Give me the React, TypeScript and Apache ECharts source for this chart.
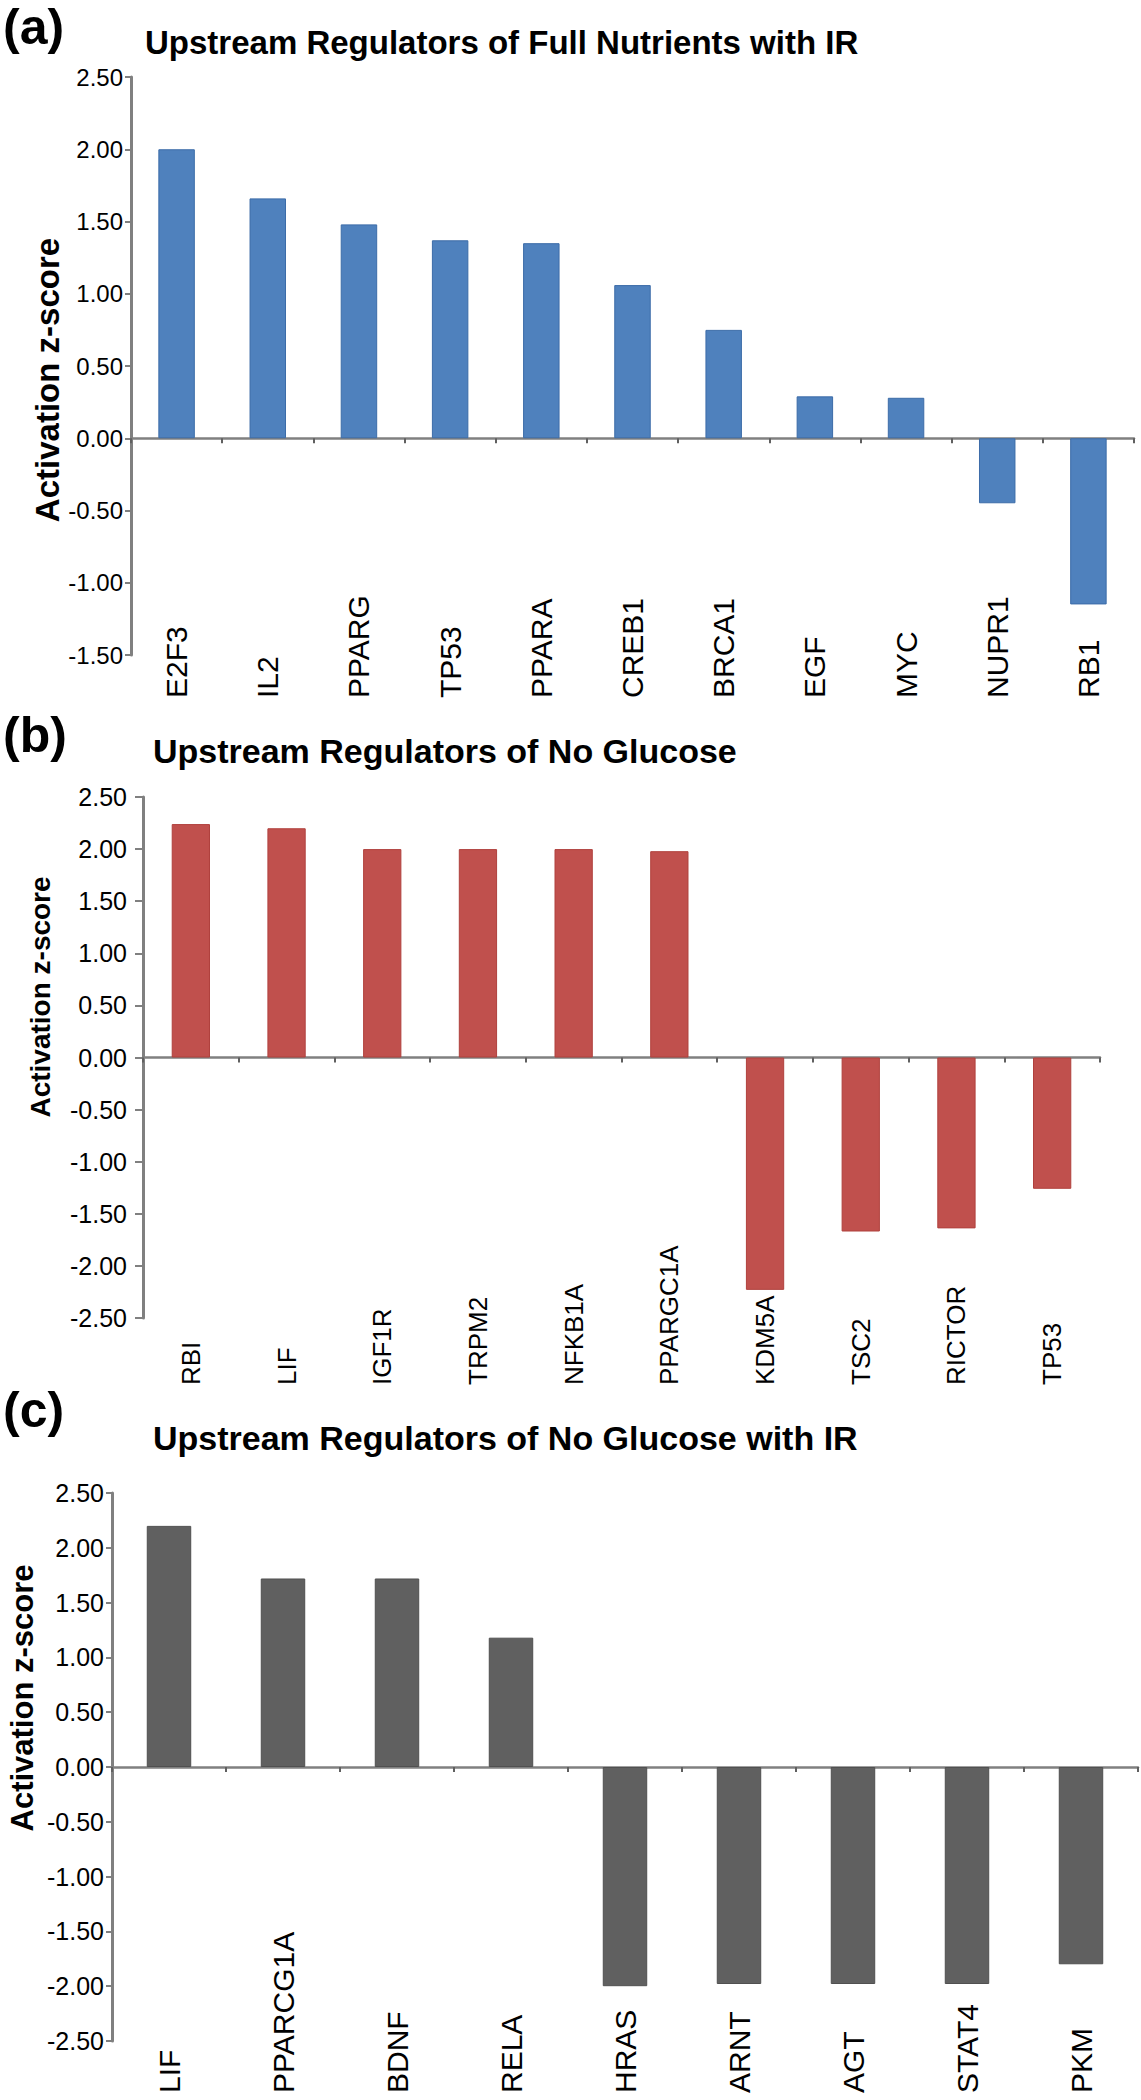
import React, { useEffect, useRef } from 'react';
import * as echarts from 'echarts';

// Panel (a): Upstream Regulators of Full Nutrients with IR
const catsA = ['E2F3', 'IL2', 'PPARG', 'TP53', 'PPARA', 'CREB1', 'BRCA1', 'EGF', 'MYC', 'NUPR1', 'RB1'];
const valsA = [2.0, 1.66, 1.48, 1.37, 1.35, 1.06, 0.75, 0.29, 0.28, -0.45, -1.15];

// Panel (b): Upstream Regulators of No Glucose
const catsB = ['RBI', 'LIF', 'IGF1R', 'TRPM2', 'NFKB1A', 'PPARGC1A', 'KDM5A', 'TSC2', 'RICTOR', 'TP53'];
const valsB = [2.24, 2.2, 2.0, 2.0, 2.0, 1.98, -2.23, -1.67, -1.64, -1.26];

// Panel (c): Upstream Regulators of No Glucose with IR
const catsC = ['LIF', 'PPARCG1A', 'BDNF', 'RELA', 'HRAS', 'ARNT', 'AGT', 'STAT4', 'PKM'];
const valsC = [2.2, 1.72, 1.72, 1.18, -2.0, -1.98, -1.98, -1.98, -1.8];

const panelLabels = ['(a)', '(b)', '(c)'];
const titles = [
  'Upstream Regulators of Full Nutrients with IR',
  'Upstream Regulators of No Glucose',
  'Upstream Regulators of No Glucose with IR',
];
const yName = 'Activation z-score';

const FONT = '"Liberation Sans", Arial, Helvetica, sans-serif';

export default function App() {
  const ref = useRef<HTMLDivElement>(null);

  useEffect(() => {
    if (!ref.current) return;
    const chart = echarts.init(ref.current, null, { renderer: 'svg' });

    const panels = [
      {
        cats: catsA, vals: valsA, color: '#4F81BD', border: '#3C6CA8',
        left: 131, top: 77, right: 1134, bottom: 655, min: -1.5, max: 2.5,
        tickFont: 24, tickMargin: 8, tickLen: 6, catFont: 30, catMargin: 43, barWidth: '40%',
        label: { x: 3, y: 27, size: 50 },
        title: { x: 145, y: 42, size: 33 },
        name: { x: 47, y: 380, size: 33 },
      },
      {
        cats: catsB, vals: valsB, color: '#C0504D', border: '#B0403D',
        left: 143, top: 797, right: 1100, bottom: 1318, min: -2.5, max: 2.5,
        tickFont: 25, tickMargin: 16, tickLen: 8, catFont: 26, catMargin: 67, barWidth: '40%',
        label: { x: 3, y: 735, size: 50 },
        title: { x: 153, y: 751, size: 34 },
        name: { x: 40, y: 997, size: 28 },
      },
      {
        cats: catsC, vals: valsC, color: '#606060', border: '#505050',
        left: 112, top: 1493, right: 1138, bottom: 2041, min: -2.5, max: 2.5,
        tickFont: 25, tickMargin: 8, tickLen: 6, catFont: 30, catMargin: 52, barWidth: '39%',
        label: { x: 3, y: 1410, size: 50 },
        title: { x: 153, y: 1438, size: 34 },
        name: { x: 22, y: 1698, size: 31 },
      },
    ];

    const grid: any[] = [];
    const xAxis: any[] = [];
    const yAxis: any[] = [];
    const series: any[] = [];
    const graphic: any[] = [];

    panels.forEach((p, i) => {
      grid.push({ left: p.left, top: p.top, width: p.right - p.left, height: p.bottom - p.top, containLabel: false });
      xAxis.push({
        type: 'category', gridIndex: i, data: p.cats, position: 'bottom',
        axisLine: { show: true, onZero: true, lineStyle: { color: '#808080', width: 2.5 } },
        axisTick: { show: true, length: 5, lineStyle: { color: '#606060', width: 2 } },
        axisLabel: { show: false },
        splitLine: { show: false },
      });
      xAxis.push({
        type: 'category', gridIndex: i, data: p.cats, position: 'bottom',
        axisLine: { show: false, onZero: false },
        axisTick: { show: false },
        axisLabel: {
          show: true, interval: 0, rotate: 90, align: 'left', verticalAlign: 'middle',
          margin: p.catMargin, fontSize: p.catFont, color: '#000', fontFamily: FONT,
        },
        splitLine: { show: false },
      });
      yAxis.push({
        type: 'value', gridIndex: i, min: p.min, max: p.max, interval: 0.5,
        axisLine: { show: true, lineStyle: { color: '#808080', width: 3 } },
        axisTick: { show: true, length: p.tickLen, lineStyle: { color: '#808080', width: 2 } },
        axisLabel: {
          formatter: (v: number) => v.toFixed(2), fontSize: p.tickFont, color: '#000',
          fontFamily: FONT, margin: p.tickMargin,
        },
        splitLine: { show: false },
      });
      series.push({
        type: 'bar', xAxisIndex: 2 * i, yAxisIndex: i, data: p.vals, barWidth: p.barWidth,
        itemStyle: { color: p.color, borderColor: p.border, borderWidth: 1 },
      });
      graphic.push({
        type: 'text', x: p.label.x, y: p.label.y,
        style: {
          text: panelLabels[i], fontSize: p.label.size, fontWeight: 'bold', fontFamily: FONT, fill: '#000',
          align: 'left', verticalAlign: 'middle', textAlign: 'left', textVerticalAlign: 'middle',
        },
      });
      graphic.push({
        type: 'text', x: p.title.x, y: p.title.y,
        style: {
          text: titles[i], fontSize: p.title.size, fontWeight: 'bold', fontFamily: FONT, fill: '#000',
          align: 'left', verticalAlign: 'middle', textAlign: 'left', textVerticalAlign: 'middle',
        },
      });
      graphic.push({
        type: 'text', x: p.name.x, y: p.name.y, rotation: Math.PI / 2,
        style: {
          text: yName, fontSize: p.name.size, fontWeight: 'bold', fontFamily: FONT, fill: '#000',
          align: 'center', verticalAlign: 'middle', textAlign: 'center', textVerticalAlign: 'middle',
        },
      });
    });

    chart.setOption({
      animation: false,
      backgroundColor: '#ffffff',
      textStyle: { fontFamily: FONT },
      grid,
      xAxis,
      yAxis,
      series,
      graphic,
    });

    return () => chart.dispose();
  }, []);

  return (
    <div
      ref={ref}
      style={{ position: 'absolute', left: 0, top: 0, width: 1141, height: 2100, background: '#fff' }}
    />
  );
}
